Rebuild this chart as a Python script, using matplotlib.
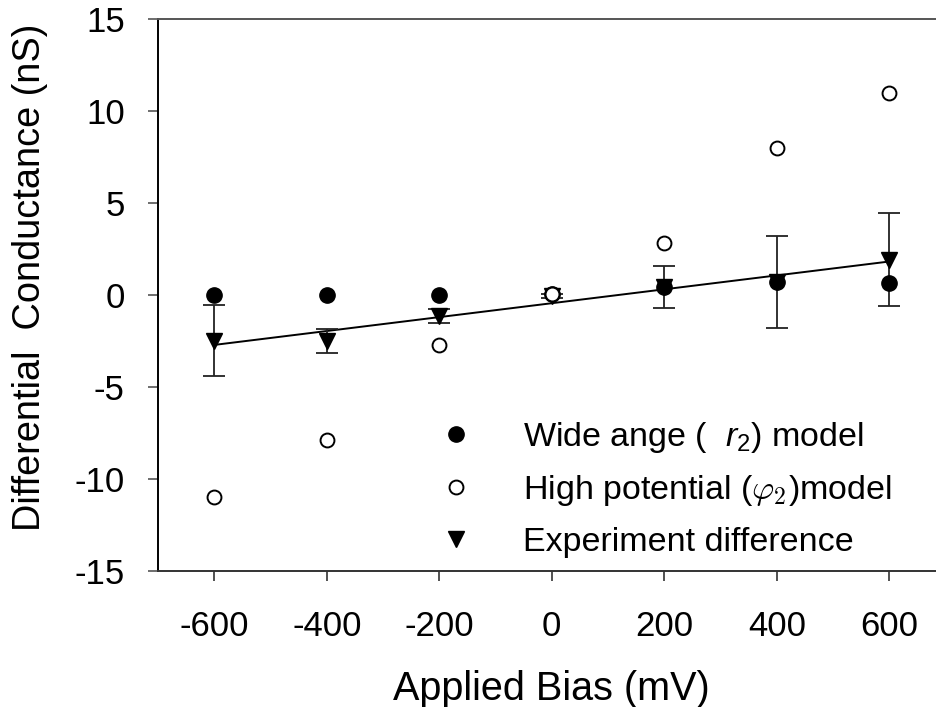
import matplotlib.pyplot as plt
import numpy as np

plt.rcParams['font.family'] = ['Liberation Sans', 'DejaVu Sans']
plt.rcParams['mathtext.fontset'] = 'custom'
plt.rcParams['mathtext.it'] = 'Liberation Sans:italic'
plt.rcParams['mathtext.rm'] = 'Liberation Sans'
plt.rcParams['axes.unicode_minus'] = False

# data
bias = [-600, -400, -200, 0, 200, 400, 600]
wide_angle = [0.0, 0.0, 0.0, 0.05, 0.45, 0.7, 0.65]
high_potential = [-11.0, -7.9, -2.7, 0.05, 2.8, 8.0, 11.0]
experiment = [-2.5, -2.5, -1.15, -0.05, 0.42, 0.7, 1.9]
experiment_err = [1.93, 0.67, 0.4, 0.1, 1.16, 2.5, 2.53]

fig = plt.figure(figsize=(9.37, 7.07), dpi=100)
ax = fig.add_axes([0.1686, 0.1928, 0.8406, 0.7803])

# experiment with error bars
eb = ax.errorbar(bias, experiment, yerr=experiment_err, fmt='v', color='black',
                 ecolor='#222222', elinewidth=1.3, capsize=8, capthick=1.3,
                 markersize=11, zorder=3)

# linear fit through experiment points
coef = np.polyfit(bias, experiment, 1)
xfit = np.array([min(bias), max(bias)])
ax.plot(xfit, np.polyval(coef, xfit), color='black', lw=1.4, zorder=2)

wide_line, = ax.plot(bias, wide_angle, 'o', color='black', markersize=11, zorder=4)
high_line, = ax.plot(bias, high_potential, 'o', mfc='white', mec='black', mew=1.4,
                     markersize=10, zorder=5)

ax.set_xlim(-700, 700)
ax.set_ylim(-15, 15)
ax.set_xticks(bias)
ax.set_yticks([-15, -10, -5, 0, 5, 10, 15])

ax.spines['right'].set_visible(False)
ax.spines['top'].set_color('#555555')
ax.spines['top'].set_linewidth(1.4)
ax.spines['left'].set_linewidth(1.4)
ax.spines['bottom'].set_linewidth(1.4)
ax.spines['bottom'].set_color('#333333')

ax.tick_params(axis='y', direction='out', length=7, width=1.2, color='#555555',
               pad=17, labelsize=25)
ax.tick_params(axis='x', direction='out', length=7, width=1.2, color='#333333',
               pad=21, labelsize=25, top=False)

ax.set_xlabel('Applied Bias (mV)', fontsize=28.5)
ax.xaxis.set_label_coords(0.5, -0.215, transform=ax.transAxes)
ax.xaxis.label.set_va('center')
ax.set_ylabel('Differential  Conductance (nS)', fontsize=27.3)
ax.yaxis.set_label_coords(-0.1625, 0.532)
ax.yaxis.label.set_va('center')

leg = ax.legend([wide_line, high_line, eb[0]],
                ['Wide ange (  $r_2$) model',
                 r'High potential ($\varphi_2$)model',
                 'Experiment difference'],
                loc='upper left', bbox_to_anchor=(0.357, 0.274), frameon=False,
                fontsize=24.5, handlelength=1.0, handletextpad=1.45,
                labelspacing=0.55, borderaxespad=0, borderpad=0)
for t in leg.get_texts():
    if 'varphi' in t.get_text():
        t.set_math_fontfamily('cm')

fig.savefig('out.png', dpi=100)
